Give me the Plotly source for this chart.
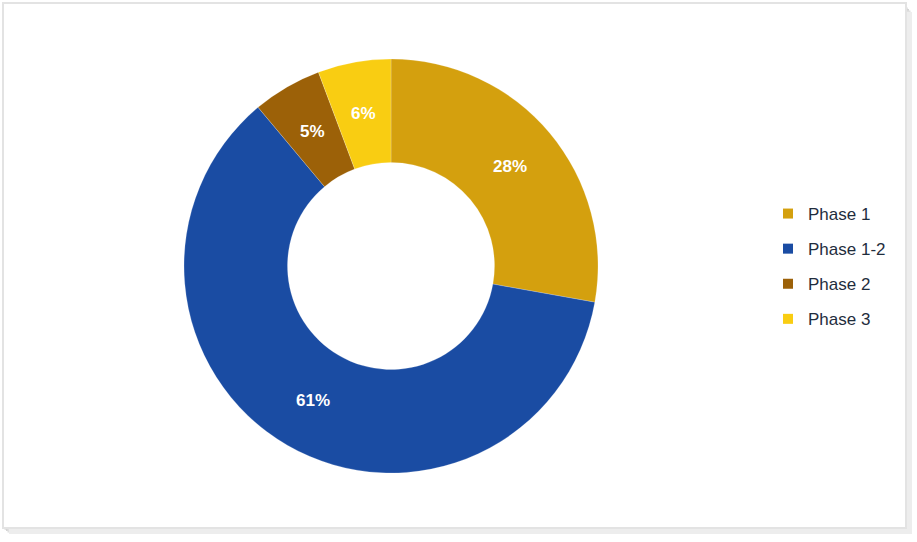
import math
import plotly.graph_objects as go

# slice data, clockwise from 12 o'clock
phases = ["Phase 1", "Phase 1-2", "Phase 2", "Phase 3"]
shares = [27.8, 61.1, 5.4, 5.7]
colors = ["#D4A00E", "#1A4CA3", "#9C6108", "#F9CD12"]

W, H = 917, 542
CX, CY = 391, 266          # donut centre (px)
R_OUT, R_IN = 207, 103.5   # radii (px)

def px(x):
    return x / W

def py(y):
    return 1 - y / H

fig = go.Figure()
fig.add_trace(go.Pie(
    labels=phases,
    values=shares,
    hole=R_IN / R_OUT,
    sort=False,
    direction="clockwise",
    rotation=0,
    showlegend=False,
    textinfo="none",
    marker=dict(colors=colors, line=dict(color="rgba(255,255,255,0.4)", width=0.5)),
    domain=dict(x=[px(CX - R_OUT), px(CX + R_OUT)], y=[py(CY + R_OUT), py(CY - R_OUT)]),
))

# percentage labels at the middle of each ring segment
total = sum(shares)
annotations = []
start = 0
for v in shares:
    mid = (start + v / 2) / total * 2 * math.pi
    start += v
    r = (R_OUT + R_IN) / 2
    annotations.append(dict(
        x=px(CX + r * math.sin(mid)), y=py(CY - r * math.cos(mid)),
        xref="paper", yref="paper", xanchor="center", yanchor="middle",
        showarrow=False,
        text="<b>%d%%</b>" % round(v / total * 100),
        font=dict(family="Liberation Sans", size=17, color="white"),
    ))

# legend entries (separate groups so the gap between them can be set)
for name, c in zip(phases, colors):
    fig.add_trace(go.Scatter(
        x=[None], y=[None], mode="markers", name=name, legendgroup=name,
        marker=dict(symbol="square", size=10, color=c),
    ))

# frame with soft shadow
shapes = []
for i, c in enumerate(["#c8c8c8", "#d4d4d4", "#e0e0e0", "#ededed"]):
    o = 1.5 + i * 1.5
    shapes.append(dict(type="rect", xref="paper", yref="paper",
                       x0=px(3 + o), y0=py(528 + o), x1=px(906 + o), y1=py(3 + o + 3),
                       fillcolor=c, line=dict(width=0), layer="below"))
shapes.append(dict(type="rect", xref="paper", yref="paper",
                   x0=px(3), y0=py(528), x1=px(906), y1=py(3),
                   fillcolor="white", line=dict(color="#e3e3e3", width=2), layer="below"))

fig.update_layout(
    width=W, height=H,
    margin=dict(l=0, r=0, t=0, b=0),
    paper_bgcolor="white",
    plot_bgcolor="rgba(0,0,0,0)",
    xaxis=dict(visible=False),
    yaxis=dict(visible=False),
    shapes=shapes,
    annotations=annotations,
    showlegend=True,
    legend=dict(x=px(768), y=py(196), xanchor="left", yanchor="top",
                tracegroupgap=10,
                font=dict(family="Liberation Sans", size=17, color="#1F2D3D"),
                bgcolor="rgba(0,0,0,0)"),
)

fig.write_html("out.html", config={"displayModeBar": False},
               post_script="document.body.style.margin='0';")
